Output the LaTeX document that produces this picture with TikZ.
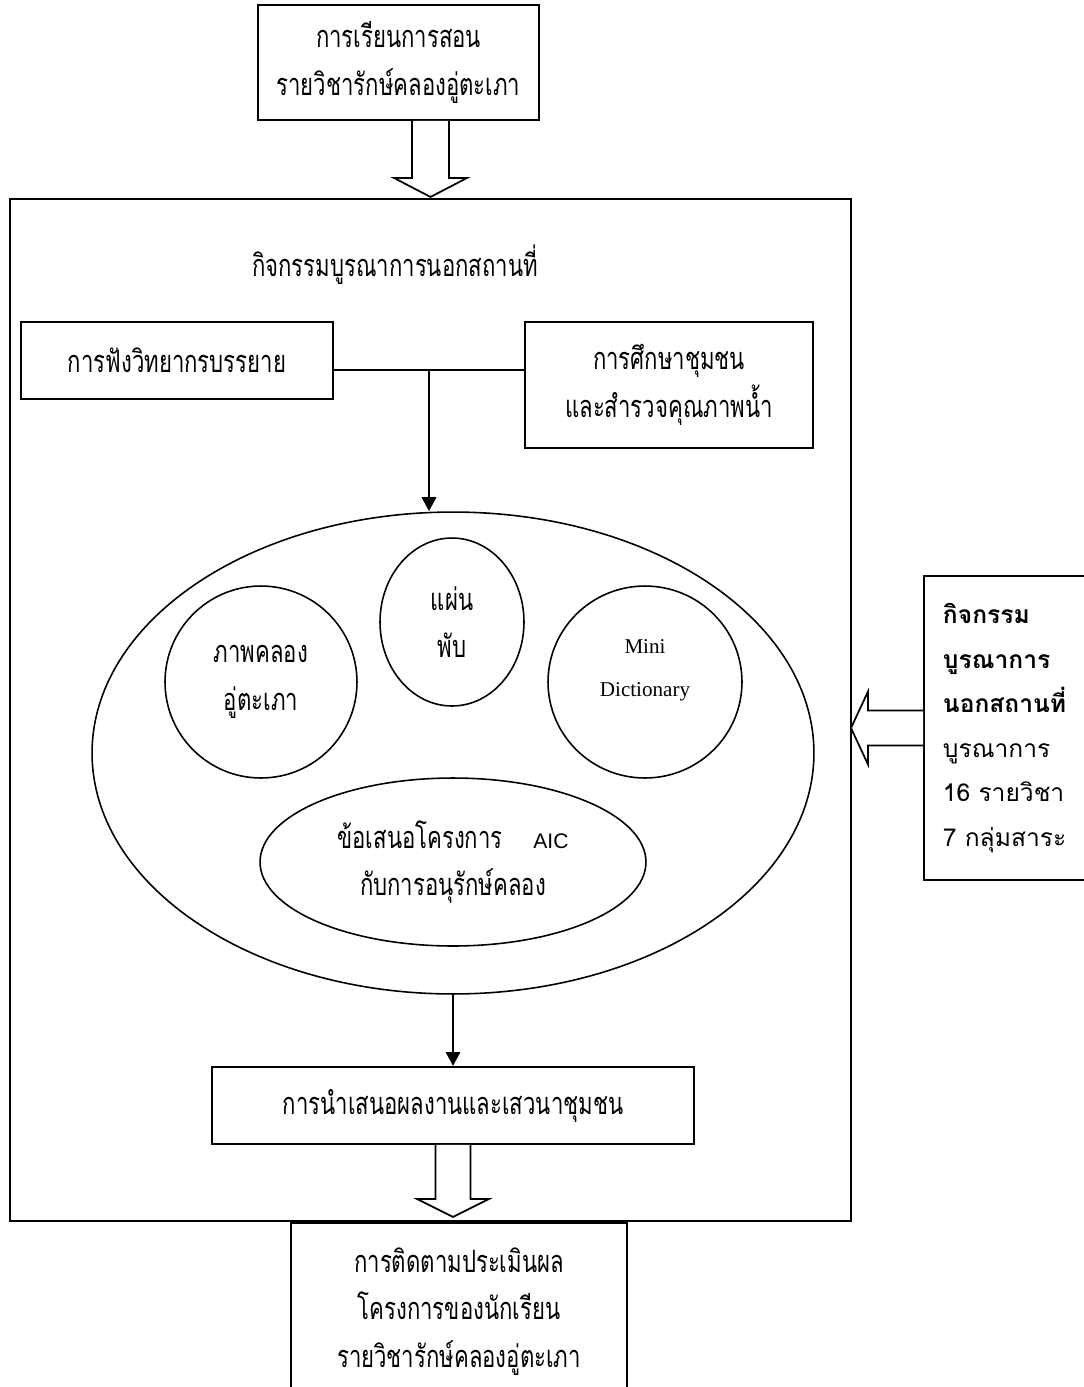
\documentclass[tikz,border=0pt]{standalone}
\usepackage{fontspec}
\usetikzlibrary{arrows.meta}
\usetikzlibrary{calc}
\usetikzlibrary{shapes.geometric}
\newfontfamily\thaifont[Script=Thai,FakeStretch=0.72]{Loma}
\newfontfamily\thaisans[Script=Thai]{Loma}
\newfontfamily\latinsans{Liberation Sans}
\newfontfamily\latinserif{Liberation Serif}
\newcommand\thaitxt{\thaifont\fontsize{17.5pt}{27pt}\selectfont}

\begin{document}
\begin{tikzpicture}[x=0.02cm, y=-0.02cm,
    box/.style={draw, line width=1.1pt, inner sep=0pt, align=center, font=\thaitxt},
    bubble/.style={draw, ellipse, line width=0.9pt, inner sep=0pt, align=center, font=\thaitxt},
    flow/.style={line width=1.7pt, -{Triangle[length=8pt,width=8pt]}},
    hollow/.style={draw, line width=1pt, fill=white}]
\useasboundingbox (0,0) rectangle (1084,1387);
\clip (0,0) rectangle (1084,1387);

\node[box, minimum width=5.62cm, minimum height=2.3cm] (topbox) at (398.5,62.5) {การเรียนการสอน\\รายวิชารักษ์คลองอู่ตะเภา};
\node[box, minimum width=16.82cm, minimum height=20.44cm] (frame) at (430.5,710) {};
\draw[hollow] ($(topbox.south -| frame.north)+(-18.5,0)$) -- ++(0,57) -- ++(-18,0) -- ++(36.5,19) -- ++(36.5,-19) -- ++(-18,0) -- ++(0,-57);

\node[font=\thaitxt] (title) at (395,265) {กิจกรรมบูรณาการนอกสถานที่};
\node[box, minimum width=6.24cm, minimum height=1.54cm] (lecture) at (177,360.5) {การฟังวิทยากรบรรยาย};
\node[box, minimum width=5.76cm, minimum height=2.52cm] (survey) at (669,385) {การศึกษาชุมชน\\และสำรวจคุณภาพน้ำ};
\coordinate (join) at (429,370);
\draw[line width=0.8pt] (lecture.east |- join) -- (survey.west |- join);

% products of the field trip
\node[bubble, minimum width=14.44cm, minimum height=9.64cm] (zone) at (453,753) {};
\draw[flow] (join) -- (join |- zone.north);
\node[bubble, minimum width=3.84cm, minimum height=3.84cm] (photo) at (261,682) {ภาพคลอง\\อู่ตะเภา};
\node[bubble, minimum width=2.88cm, minimum height=3.36cm] (leaflet) at (452,622) {แผ่น\\พับ};
\node[bubble, minimum width=3.88cm, minimum height=3.84cm] (dict) at (645,682) {};
\node[align=center, font=\latinserif\fontsize{12pt}{24.5pt}\selectfont] (dictname) at ($(dict)+(0,-12)$) {Mini\\Dictionary};
\node[bubble, minimum width=7.72cm, minimum height=3.36cm] (proposal) at (453,862) {ข้อเสนอโครงการ\quad{\latinsans\fontsize{12pt}{27pt}\selectfont AIC}\\กับการอนุรักษ์คลอง};

\node[box, minimum width=9.64cm, minimum height=1.54cm] (present) at (453,1105.5) {การนำเสนอผลงานและเสวนาชุมชน};
\draw[flow] (zone.south) -- (present.north);
\draw[hollow] ($(present.south)+(-17.5,0)$) -- ++(0,54) -- ++(-18.5,0) -- ++(36,18) -- ++(36,-18) -- ++(-18.5,0) -- ++(0,-54);
\node[box, minimum width=6.72cm, minimum height=3.54cm] (followup) at (459,1311.5) {การติดตามประเมินผล\\โครงการของนักเรียน\\รายวิชารักษ์คลองอู่ตะเภา};

\node[box, anchor=west, align=left, text width=2.8cm, inner xsep=0.38cm, minimum height=6.08cm, font=\thaisans\fontsize{14pt}{25.3pt}\selectfont] (info) at (923,728) {\textbf{กิจกรรม}\\\textbf{บูรณาการ}\\\textbf{นอกสถานที่}\\บูรณาการ\\16 รายวิชา\\7 กลุ่มสาระ};
\draw[hollow] ($(info.west)+(0,-17.5)$) -- ++(-55,0) -- ++(0,-19) -- ++(-17,36.5) -- ++(17,36.5) -- ++(0,-19) -- ++(55,0);
\end{tikzpicture}
\end{document}
